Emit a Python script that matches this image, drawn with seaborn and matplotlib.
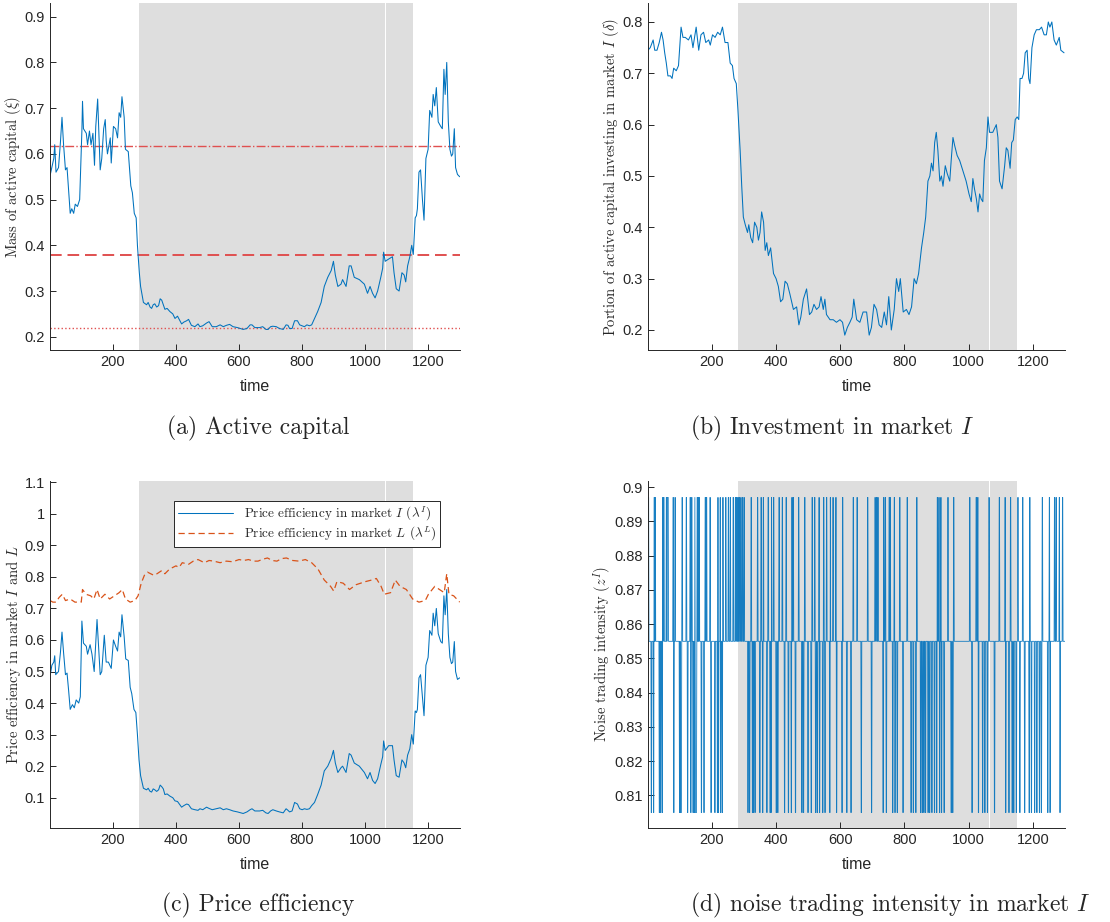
import numpy as np
import pandas as pd
import seaborn as sns
import matplotlib.pyplot as plt
from matplotlib.ticker import FuncFormatter

# ---- data ----
# (a) mass of active capital
a_t = [2, 13, 16, 20, 28, 34, 39, 44, 50, 55, 60, 65, 70, 76, 81, 88, 95, 102, 104, 107,
       116, 120, 126, 131, 137, 142, 146, 152, 156, 160, 165, 171, 176, 179, 183, 192, 195, 202, 209, 215,
       220, 225, 229, 236, 240, 249, 257, 262, 268, 274, 278, 284, 288,
       297, 307, 312, 318, 323, 328, 333, 339, 345, 350, 355, 360, 365, 372, 381, 390, 397, 405, 418, 425,
       434, 440, 449, 460, 470, 476, 485, 497, 505, 515, 528, 540, 550, 560, 570, 581, 595, 613, 625, 635,
       641, 650, 665, 675, 685, 692, 700, 707, 718, 728, 740, 749, 755, 760, 768, 776, 785, 792, 800, 807,
       815, 823, 830, 839, 849,
       860, 870, 881, 892, 899, 905, 913, 923, 928, 939, 949, 955, 965, 981, 997, 1007,
       1015, 1023, 1031, 1039, 1049, 1055, 1058, 1063, 1074, 1086, 1091, 1098, 1107, 1116, 1123, 1128, 1134, 1141, 1147, 1152,
       1158, 1162, 1165, 1170, 1175, 1181, 1186, 1192, 1199, 1204, 1211, 1215, 1220, 1225, 1231, 1239, 1244, 1249, 1253, 1258,
       1263, 1268, 1273, 1277, 1282, 1286, 1292, 1299]
a_v = [0.555, 0.59, 0.62, 0.56, 0.57, 0.625, 0.68, 0.62, 0.565, 0.57, 0.52, 0.47, 0.48, 0.47, 0.49, 0.485, 0.50, 0.65, 0.715, 0.655,
       0.645, 0.62, 0.65, 0.62, 0.645, 0.575, 0.66, 0.72, 0.64, 0.565, 0.59, 0.655, 0.675, 0.63, 0.60, 0.635, 0.58, 0.66, 0.655, 0.635,
       0.69, 0.68, 0.725, 0.68, 0.61, 0.605, 0.53, 0.515, 0.47, 0.46, 0.40, 0.34, 0.31,
       0.275, 0.27, 0.275, 0.265, 0.262, 0.27, 0.272, 0.265, 0.268, 0.283, 0.28, 0.27, 0.26, 0.262, 0.255, 0.25, 0.24, 0.245, 0.228, 0.232,
       0.235, 0.238, 0.225, 0.222, 0.228, 0.222, 0.224, 0.23, 0.233, 0.222, 0.222, 0.226, 0.222, 0.225, 0.227, 0.222, 0.22, 0.216, 0.218, 0.226,
       0.226, 0.22, 0.22, 0.222, 0.216, 0.216, 0.222, 0.223, 0.222, 0.218, 0.216, 0.226, 0.225, 0.218, 0.218, 0.235, 0.235, 0.226, 0.224, 0.222,
       0.226, 0.224, 0.226, 0.24, 0.255,
       0.275, 0.31, 0.33, 0.345, 0.365, 0.335, 0.31, 0.315, 0.325, 0.31, 0.355, 0.355, 0.33, 0.325, 0.315, 0.295,
       0.31, 0.295, 0.285, 0.30, 0.33, 0.35, 0.385, 0.365, 0.37, 0.375, 0.34, 0.305, 0.30, 0.34, 0.335, 0.32, 0.355, 0.375, 0.40, 0.38,
       0.46, 0.465, 0.48, 0.56, 0.565, 0.50, 0.455, 0.59, 0.61, 0.695, 0.68, 0.73, 0.705, 0.745, 0.67, 0.66, 0.655, 0.785, 0.73, 0.80,
       0.67, 0.61, 0.595, 0.60, 0.655, 0.57, 0.555, 0.55]
a_refs = [0.618, 0.378, 0.22]

# (b) share of active capital in market I
b_t = [1, 8, 17, 22, 29, 36, 43, 48, 53, 58, 63, 71, 76, 81, 89, 96, 104, 110, 117, 127,
       135, 141, 151, 159, 166, 174, 181, 190, 195, 202, 210, 218, 226, 233, 241, 250, 257, 264, 269, 276,
       281, 288, 293, 298, 304, 311, 315, 321, 327, 333, 340, 345, 350, 355, 361, 366, 371, 376, 383, 392,
       400, 407, 414, 421, 428, 435, 443, 454, 464, 471, 477, 485, 495, 504, 511, 518, 526, 534, 540, 547,
       552, 557, 568, 578, 588, 599, 607, 614, 622, 630, 637, 642, 651, 661, 671, 682, 690, 697, 705, 713,
       721, 729, 737, 744, 751, 759, 768, 775, 782, 787, 796, 806, 814, 822, 830, 837, 844, 853, 860, 866,
       873, 879, 884, 889, 894, 899, 904, 910, 915, 920, 927, 933, 941, 946, 951, 956, 964, 972, 982, 992,
       1001, 1008, 1013, 1018, 1024, 1029, 1034, 1039, 1044, 1049, 1055, 1060, 1065, 1075, 1086, 1091, 1096, 1104, 1112, 1117,
       1122, 1129, 1134, 1139, 1145, 1151, 1156, 1160, 1166, 1171, 1176, 1182, 1187, 1191, 1197, 1204, 1211, 1220, 1227, 1235,
       1242, 1248, 1253, 1259, 1266, 1273, 1282, 1287, 1297]
b_v = [0.745, 0.75, 0.765, 0.745, 0.745, 0.76, 0.78, 0.765, 0.74, 0.72, 0.695, 0.695, 0.69, 0.71, 0.705, 0.715, 0.79, 0.77, 0.77, 0.765,
       0.775, 0.75, 0.79, 0.745, 0.775, 0.78, 0.76, 0.765, 0.755, 0.775, 0.77, 0.78, 0.775, 0.79, 0.76, 0.76, 0.72, 0.715, 0.69, 0.68,
       0.63, 0.55, 0.48, 0.42, 0.405, 0.39, 0.405, 0.38, 0.37, 0.41, 0.40, 0.375, 0.39, 0.43, 0.41, 0.355, 0.37, 0.345, 0.36, 0.31,
       0.30, 0.285, 0.255, 0.26, 0.295, 0.29, 0.27, 0.24, 0.245, 0.21, 0.225, 0.26, 0.28, 0.23, 0.235, 0.25, 0.24, 0.245, 0.265, 0.24,
       0.26, 0.23, 0.22, 0.22, 0.215, 0.22, 0.215, 0.19, 0.205, 0.215, 0.225, 0.26, 0.22, 0.215, 0.235, 0.235, 0.19, 0.205, 0.25, 0.24,
       0.21, 0.205, 0.235, 0.21, 0.265, 0.20, 0.24, 0.30, 0.275, 0.30, 0.235, 0.24, 0.23, 0.245, 0.30, 0.29, 0.31, 0.36, 0.39, 0.42,
       0.49, 0.50, 0.525, 0.51, 0.565, 0.585, 0.55, 0.49, 0.50, 0.48, 0.52, 0.505, 0.49, 0.535, 0.575, 0.56, 0.54, 0.53, 0.51, 0.49,
       0.465, 0.45, 0.495, 0.475, 0.455, 0.43, 0.465, 0.455, 0.45, 0.53, 0.555, 0.615, 0.585, 0.585, 0.60, 0.575, 0.49, 0.475, 0.52, 0.555,
       0.55, 0.515, 0.565, 0.57, 0.61, 0.615, 0.61, 0.69, 0.69, 0.70, 0.74, 0.745, 0.69, 0.68, 0.75, 0.775, 0.785, 0.785, 0.79, 0.775,
       0.775, 0.80, 0.79, 0.80, 0.765, 0.755, 0.77, 0.745, 0.74]

# (c) price efficiency, market I and market L
cI_t = [2, 7, 13, 16, 19, 28, 34, 39, 44, 50, 55, 60, 65, 72, 78, 84, 92, 97, 102, 107,
        116, 120, 128, 134, 141, 150, 155, 160, 165, 173, 179, 186, 195, 202, 209, 215, 220, 225, 229, 236,
        241, 249, 255, 260, 267, 273, 278, 283, 288,
        297, 307, 312, 318, 323, 328, 333, 339, 345, 350, 355, 360, 365, 372, 381, 390, 397, 405, 418, 425,
        434, 440, 449, 460, 470, 476, 485, 497, 505, 515, 528, 540, 550, 560, 570, 581, 595, 613, 625, 635,
        641, 650, 665, 675, 685, 692, 700, 707, 718, 728, 740, 749, 755, 760, 768, 776, 785, 792, 800, 807,
        815, 823, 830, 839, 849,
        860, 870, 881, 892, 899, 905, 913, 923, 928, 939, 949, 955, 965, 981, 997, 1007, 1015, 1023, 1031, 1039, 1049,
        1055, 1058, 1063, 1074, 1086, 1091, 1098, 1107, 1116, 1123, 1128, 1134, 1141, 1147, 1152, 1158, 1162, 1165, 1170, 1175,
        1181, 1186, 1192, 1199, 1204, 1211, 1215, 1220, 1225, 1231, 1239, 1244, 1249, 1253, 1258, 1263, 1268, 1273, 1277, 1282,
        1286, 1292, 1299]
cI_v = [0.49, 0.52, 0.53, 0.55, 0.49, 0.50, 0.56, 0.625, 0.56, 0.49, 0.495, 0.44, 0.38, 0.395, 0.385, 0.41, 0.40, 0.42, 0.66, 0.59,
        0.58, 0.555, 0.585, 0.555, 0.50, 0.665, 0.58, 0.49, 0.50, 0.615, 0.53, 0.53, 0.51, 0.60, 0.58, 0.565, 0.625, 0.61, 0.68, 0.61,
        0.54, 0.535, 0.45, 0.43, 0.38, 0.37, 0.30, 0.22, 0.17,
        0.13, 0.125, 0.13, 0.12, 0.118, 0.128, 0.125, 0.12, 0.125, 0.14, 0.135, 0.128, 0.11, 0.112, 0.105, 0.10, 0.09, 0.088, 0.07, 0.075,
        0.08, 0.078, 0.065, 0.062, 0.06, 0.065, 0.062, 0.07, 0.066, 0.062, 0.065, 0.068, 0.062, 0.065, 0.062, 0.058, 0.055, 0.05, 0.055, 0.062,
        0.065, 0.058, 0.058, 0.06, 0.052, 0.05, 0.058, 0.062, 0.058, 0.055, 0.052, 0.065, 0.06, 0.055, 0.058, 0.085, 0.08, 0.065, 0.062, 0.065,
        0.063, 0.065, 0.075, 0.085, 0.11,
        0.14, 0.185, 0.20, 0.225, 0.25, 0.21, 0.18, 0.195, 0.20, 0.18, 0.24, 0.235, 0.21, 0.20, 0.18, 0.16, 0.18, 0.155, 0.145, 0.16, 0.205,
        0.23, 0.28, 0.25, 0.265, 0.265, 0.22, 0.17, 0.165, 0.22, 0.21, 0.195, 0.235, 0.255, 0.30, 0.27, 0.375, 0.37, 0.38, 0.48, 0.49,
        0.42, 0.36, 0.52, 0.545, 0.63, 0.615, 0.685, 0.645, 0.70, 0.62, 0.595, 0.59, 0.74, 0.68, 0.76, 0.62, 0.545, 0.525, 0.53, 0.595,
        0.50, 0.475, 0.48]
cL_t = [1, 10, 20, 30, 40, 50, 65, 80, 100, 104, 115, 130, 140, 150, 160, 175, 190, 205, 220, 230,
        240, 255, 270, 280, 290, 300, 310, 320, 330, 340, 355, 365, 380, 400, 410, 420, 440, 455, 470, 490,
        505, 520, 540, 560, 580, 600, 615, 630, 645, 660, 675, 690, 705, 720, 735, 750, 770, 790, 810, 830,
        850, 870, 890, 900, 910, 930, 950, 970, 985, 1000, 1020, 1035, 1050, 1060, 1080, 1095, 1110, 1130, 1150, 1170,
        1190, 1200, 1220, 1235, 1250, 1258, 1265, 1280, 1299]
cL_v = [0.725, 0.72, 0.72, 0.735, 0.745, 0.725, 0.73, 0.72, 0.72, 0.76, 0.745, 0.74, 0.73, 0.76, 0.73, 0.745, 0.73, 0.74, 0.75, 0.76,
        0.73, 0.72, 0.725, 0.74, 0.78, 0.805, 0.815, 0.81, 0.805, 0.81, 0.82, 0.81, 0.825, 0.835, 0.83, 0.845, 0.84, 0.85, 0.855, 0.845,
        0.852, 0.85, 0.845, 0.85, 0.848, 0.855, 0.852, 0.855, 0.85, 0.85, 0.856, 0.86, 0.852, 0.85, 0.858, 0.86, 0.852, 0.85, 0.855, 0.845,
        0.825, 0.79, 0.77, 0.755, 0.785, 0.78, 0.76, 0.775, 0.78, 0.785, 0.79, 0.795, 0.77, 0.745, 0.75, 0.79, 0.77, 0.76, 0.73, 0.72,
        0.725, 0.745, 0.77, 0.76, 0.75, 0.81, 0.745, 0.74, 0.72]

# (d) noise trading intensity: three levels, times where it jumps up / down
d_levels = [0.805, 0.855, 0.897]
d_up = [2, 20, 23, 46, 49, 50, 58, 61, 63, 79, 85, 107, 120, 132, 137, 146, 154, 157, 160, 179,
        183, 194, 218, 226, 234, 243, 251, 257, 266, 273, 277, 281, 285, 290, 295, 300, 322, 342, 353, 360,
        375, 385, 392, 409, 419, 431, 449, 453, 470, 489, 512, 520, 534, 548, 557, 568, 577, 586, 607, 640,
        652, 685, 708, 713, 717, 735, 740, 752, 755, 768, 785, 808, 838, 878, 902, 907, 913, 935, 953, 1003,
        1023, 1028, 1063, 1095, 1113, 1130, 1153, 1168, 1190, 1229, 1251, 1267, 1272, 1282, 1292]
d_down = [11, 18, 36, 40, 45, 81, 99, 102, 104, 124, 134, 141, 145, 149, 151, 167, 175, 197, 209, 217,
          220, 227, 232, 312, 317, 326, 329, 334, 349, 358, 371, 381, 384, 400, 405, 426, 438, 447, 460, 480,
          485, 499, 509, 523, 528, 535, 545, 552, 567, 588, 605, 620, 633, 665, 697, 733, 743, 763, 770, 777,
          795, 820, 827, 835, 850, 855, 860, 865, 873, 878, 885, 893, 900, 909, 915, 923, 945, 950, 1010, 1030,
          1043, 1050, 1058, 1080, 1115, 1125, 1135, 1140, 1148, 1159, 1174, 1188, 1195, 1205, 1212, 1220, 1226, 1246, 1253, 1284]

# shaded period (two blocks with a thin gap)
shade_spans = [(282, 1063), (1067, 1150)]

assert len(a_t) == len(a_v) and len(b_t) == len(b_v)
assert len(cI_t) == len(cI_v) and len(cL_t) == len(cL_v)

# ---- style ----
sns.set_style("ticks")
plt.rcParams['font.family'] = ['Liberation Sans', 'DejaVu Sans']
plt.rcParams['mathtext.fontset'] = 'cm'
plt.rcParams['axes.edgecolor'] = '#262626'
plt.rcParams['xtick.color'] = '#262626'
plt.rcParams['ytick.color'] = '#262626'
plt.rcParams['xtick.direction'] = 'in'
plt.rcParams['ytick.direction'] = 'in'

blue = '#0072BD'
orange = '#D95319'
red = '#e05050'
shade = '#dedede'
W, H = 1110, 922

fig = plt.figure(figsize=(W / 100, H / 100), dpi=100)


def make_ax(x0, y_top, w, h):
    return fig.add_axes([x0 / W, 1 - (y_top + h) / H, w / W, h / H])


def style_ax(ax, ylab, ylim, yticks):
    for s0, s1 in shade_spans:
        ax.axvspan(s0, s1, color=shade, lw=0, zorder=0)
    ax.set_xlim(1, 1300)
    ax.set_ylim(*ylim)
    ax.set_xticks([200, 400, 600, 800, 1000, 1200])
    ax.set_yticks(yticks)
    ax.yaxis.set_major_formatter(FuncFormatter(lambda v, _: f'{v:g}'))
    ax.tick_params(labelsize=10.5, length=4, width=0.7)
    ax.set_xlabel('time', fontsize=11.5, labelpad=7)
    ax.set_ylabel(ylab, family='cmr10', fontsize=10.5, labelpad=1)
    sns.despine(ax=ax)
    for sp in ax.spines.values():
        sp.set_linewidth(0.7)


# (a)
ax_a = make_ax(50, 3, 410, 347)
style_ax(ax_a, r'Mass of active capital ($\xi$)', (0.171, 0.93), np.arange(0.2, 0.95, 0.1))
sns.lineplot(x=a_t, y=a_v, ax=ax_a, color=blue, lw=0.75, estimator=None)
for val, ls, w in zip(a_refs, ['-.', (0, (6, 3)), ':'], [1.0, 1.4, 1.0]):
    ax_a.axhline(val, color=red, ls=ls, lw=w, zorder=1)

# (b)
ax_b = make_ax(648, 3, 417, 347)
style_ax(ax_b, r'Portion of active capital investing in market $I$ ($\delta$)', (0.161, 0.837),
         np.arange(0.2, 0.85, 0.1))
sns.lineplot(x=b_t, y=b_v, ax=ax_b, color=blue, lw=0.75, estimator=None)

# (c)
ax_c = make_ax(50, 481, 410, 347)
style_ax(ax_c, r'Price efficiency in market $I$ and $L$', (0.004, 1.104), np.arange(0.1, 1.15, 0.1))
sns.lineplot(x=cI_t, y=cI_v, ax=ax_c, color=blue, lw=0.75, estimator=None, legend=False)
sns.lineplot(x=cL_t, y=cL_v, ax=ax_c, color=orange, lw=0.9, estimator=None, legend=False,
             linestyle=(0, (5, 3)))
leg = ax_c.legend(handles=ax_c.lines[:2],
                  labels=[r'Price efficiency in market $I$ ($\lambda^I$)',
                          r'Price efficiency in market $L$ ($\lambda^L$)'],
                  loc='upper right', bbox_to_anchor=(1 - 13 / 410, 1 - 13 / 347),
                  prop={'family': 'cmr10', 'size': 9.5}, handlelength=4.2, fancybox=False,
                  edgecolor='#262626', framealpha=1, borderpad=0.3, labelspacing=0.2)
leg.get_frame().set_linewidth(0.7)

# (d)
d_t = np.arange(1, 1301)
d_v = np.full(d_t.size, d_levels[1])
for s in d_up:
    d_v[s - 1:s + 1] = d_levels[2]
for s in d_down:
    d_v[s - 1:s + 1] = d_levels[0]
ax_d = make_ax(648, 481, 417, 347)
style_ax(ax_d, r'Noise trading intensity ($z^I$)', (0.8005, 0.9018), np.arange(0.81, 0.905, 0.01))
sns.lineplot(x=d_t, y=d_v, ax=ax_d, color=blue, lw=0.6, alpha=0.9, estimator=None)

# captions
cap = dict(family='cmr10', fontsize=17, va='center')
fig.text(258 / W, 1 - 428 / H, '(a) Active capital', ha='center', **cap)
fig.text(690 / W, 1 - 428 / H, r'(b) Investment in market $I$', ha='left', **cap)
fig.text(258 / W, 1 - 905 / H, '(c) Price efficiency', ha='center', **cap)
fig.text(690 / W, 1 - 905 / H, r'(d) noise trading intensity in market $I$', ha='left', **cap)

fig.savefig('out.png', dpi=100)
